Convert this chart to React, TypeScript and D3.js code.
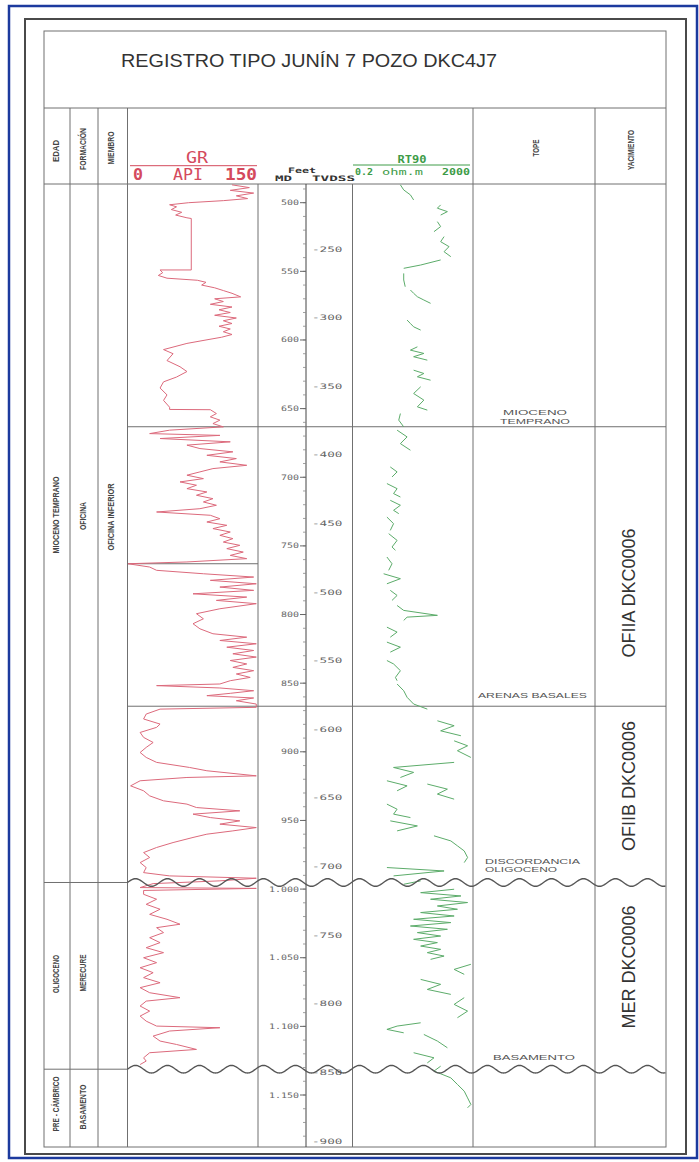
import React from "react";
import * as d3 from "d3";

// ---------- DATA ----------
const chartTitle = "REGISTRO TIPO JUNÍN 7 POZO DKC4J7";
const mdTicks = [500, 550, 600, 650, 700, 750, 800, 850, 900, 950, 1000, 1050, 1100, 1150];
const tvdssTicks = [-250, -300, -350, -400, -450, -500, -550, -600, -650, -700, -750, -800, -850, -900];

// GR (API) vs MD (ft)
const grData: [number, number][] = [
  [487,120],[489,140],[491,118],[493,145],[495,125],[497,138],[498.5,110],[500,70],[501.5,48],[503,56],[505,50],[507,62],[509,55],[511,68],[511.5,73],[549,73],[549,37],[551,40],[553,35],[555,45],[556.5,80],[558,90],[560,85],[562,100],[564,110],[566,120],[568.6,130],[570,100],[572,110],[574,95],[576,120],[578,105],[580,118],[582,100],[584,125],[586,110],[588,120],[590,105],[592,118],[594,110],[596,120],[598,108],[600,90],[602.5,68],[607,41],[610,52],[615,45],[619.5,60],[623,68],[627,56],[630.5,41],[635,37],[640,45],[644,41],[649,48],[650.6,48],[650.8,95],[653.6,102],[656,95],[658.4,106],[660.9,98],[663.3,110],[665.7,48],[668.2,25],[669.5,106],[671.8,37],[674.2,118],[676.6,68],[679.1,83],[681.5,121],[684,91],[686.4,125],[688.8,106],[691.3,137],[693.7,98],[696.1,83],[698.5,68],[701,87],[703.4,60],[705.8,79],[708.3,68],[710.7,91],[713.1,79],[715.6,98],[718,87],[720.4,102],[722.9,83],[725.3,33],[727.7,95],[730.2,106],[732.6,91],[735,114],[737.4,98],[739.9,118],[742.3,106],[744.7,121],[747.2,110],[749.6,129],[752,114],[754.5,133],[756.9,118],[759.3,137],[761.7,68],[763,0],[765.4,25],[767.8,33],[770.3,87],[772.7,145],[775.1,95],[777.6,148],[780,106],[782.4,145],[784.9,75],[787.3,137],[789.7,102],[792.1,148],[795.8,106],[799.4,79],[803.1,87],[806.7,75],[810.4,83],[814,98],[816.5,137],[818.9,106],[821.3,148],[823.8,114],[826.2,145],[828.6,121],[831,148],[833.5,118],[836,137],[838.5,121],[840.9,145],[843.3,125],[845.8,141],[848.2,118],[850.6,106],[851.8,33],[853.5,106],[855.5,145],[857.4,118],[859.1,91],[860.8,145],[862.8,125],[865.2,148],[867.6,148],[868.9,37],[872.5,21],[876.1,18],[879.8,37],[882.2,33],[885.9,14],[889.5,18],[893.2,29],[896.8,21],[900.5,14],[904.1,21],[907.7,33],[911.4,71],[913.8,91],[917.5,148],[918.7,68],[921.1,14],[924.8,3],[928.4,18],[932.1,25],[935.7,41],[938.1,68],[940.6,79],[943,129],[945.4,75],[947.9,95],[950.3,129],[952.7,106],[955.2,148],[957.6,121],[960,91],[962.4,75],[966.1,52],[969.7,33],[973.4,18],[977,25],[980.7,14],[984.3,21],[988,18],[990.4,48],[992.1,148],[994,106],[996,29],[998.9,14],[999.5,148],[1001,18],[1003.8,18],[1007.4,33],[1011.1,21],[1014.7,37],[1018.4,25],[1022,45],[1025.6,60],[1028.1,33],[1031.7,41],[1035.4,25],[1039,37],[1042.7,21],[1046.3,41],[1050,18],[1053.6,33],[1057.3,14],[1060.9,29],[1064.5,18],[1068.2,37],[1071.8,14],[1075.5,25],[1079.1,60],[1081.6,21],[1085.2,14],[1088.9,25],[1092.5,14],[1096.2,21],[1099.8,33],[1101,106],[1103.4,48],[1107.1,29],[1110.7,37],[1113.2,56],[1116.8,79],[1119.2,25],[1122.9,18],[1125.3,21],[1127.8,14]
];

// RT90 (ohm.m) vs MD (ft), broken into segments
const rt90Segments: [number, number][][] = [
  [[487,7.6],[490.7,9.8],[494.3,16.4],[498,21]],
  [[501.6,167],[504,130],[506.5,280],[509,167]],
  [[513.8,130],[517.4,167],[521.1,100]],
  [[524.7,217],[528.4,167],[532,317],[535.7,217],[539.3,364]],
  [[541.7,167],[545.4,36],[547.8,9.8]],
  [[551.5,9.8],[556.3,9.8],[561.2,11]],
  [[563.6,16.4],[566,21],[568.5,28],[570.9,46],[573.3,77]],
  [[585.5,12.7],[588,16.4],[590.4,21],[592.8,36]],
  [[605,28],[607.4,16.4],[609.8,46],[612.2,21],[614.7,60]],
  [[622,21],[624.4,46],[626.8,28],[629.3,77]],
  [[634.1,36],[639,21],[643.8,46],[648.7,28],[651.1,60]],
  [[653.6,7.6],[658.4,6.7],[663.3,9.8]],
  [[665.7,5.9],[670.6,12.7],[675.5,7.6],[680.3,16.4]],
  [[692.5,3.5],[696.1,5.9],[699.8,4.0]],
  [[704.6,2.7],[708.3,5.9],[711.9,4.5],[714.4,7.6]],
  [[716.8,3.5],[720.4,7.6],[724.1,4.5],[726.5,6.7]],
  [[729,2.7],[733.8,4.5],[738.7,3.5]],
  [[741.1,3.1],[746,5.9],[750.8,4.0],[753.2,5.2]],
  [[758.1,2.7],[763,4.0],[767.8,3.1]],
  [[770.3,2.1],[773.9,7.6],[777.6,2.7]],
  [[782.4,3.5],[786.1,5.9],[789.7,4.0]],
  [[793.4,5.9],[797,9.8],[800.6,130],[801.9,12.7],[804.3,9.8]],
  [[809.2,2.7],[812.8,5.9],[816.5,3.5]],
  [[820.1,2.7],[823.8,7.6],[827.4,3.5]],
  [[833.5,2.7],[836,4.5],[840.9,7.6],[845.8,5.2],[848.2,5.9]],
  [[850.6,5.9],[855.5,9.8],[860.3,12.7],[865.2,21],[868.9,60]],
  [[877.4,130],[881,470],[884.7,167],[888.3,790]],
  [[892,470],[895.6,1320],[899.2,605],[904.1,1700]],
  [[907.7,470],[911.4,4.5],[915,21],[918.7,7.6]],
  [[921.1,2.7],[924.8,12.7],[928.4,5.9]],
  [[923.5,60],[927.2,280],[930.8,130],[934.5,470]],
  [[938.1,2.7],[941.8,5.9],[945.4,4.5],[947.9,16.4]],
  [[950.3,3.5],[954,28],[957.6,5.9]],
  [[961.2,100],[964.9,364],[968.5,605],[972.2,1020],[977,1320],[980.7,1020]],
  [[984.3,2.7],[986.8,217],[990.4,4.5]],
  [[994,36],[996.5,9.8]],
  [[1000.1,470],[1002.6,36],[1005,790],[1007.4,77],[1009.8,1320],[1012.3,130],[1014.7,605],[1017.1,36],[1019.6,470],[1022,21],[1024.4,364],[1026.9,16.4],[1029.3,280],[1031.7,28],[1034.2,167],[1036.6,21],[1039,130],[1041.5,36],[1043.9,167],[1046.3,60],[1048.8,217],[1051.2,77]],
  [[1054.8,1700],[1058.5,470],[1062.1,1020]],
  [[1065.8,36],[1069.4,167],[1073.1,60],[1076.7,364]],
  [[1079.1,1020],[1084,470],[1088.9,1320],[1093.7,605]],
  [[1097.4,36],[1099.8,5.9],[1102.2,2.7],[1104.7,9.8]],
  [[1105.9,46],[1110.7,130],[1115.6,280]],
  [[1119.2,21],[1122.9,100],[1126.6,60]],
  [[1129,167],[1132.6,100],[1137.5,364],[1142.3,605],[1147.2,1020],[1152.1,1320],[1156.9,1700],[1159.3,1320]]
];

const edadLabels = ["MIOCENO TEMPRANO", "OLIGOCENO", "PRE - CÁMBRICO"];
const edadLens = [77, 38, 55];
const formacionLabels = ["OFICINA", "MERECURE", "BASAMENTO"];
const formacionLens = [28, 37, 45];
const miembroLabels = ["OFICINA INFERIOR"];
const yacimientoLabels = ["OFIIA DKC0006", "OFIIB DKC0006", "MER DKC0006"];

// ---------- LAYOUT ----------
const W = 699, H = 1162;
const L = 44, R = 666, T = 31, HT = 108, HB = 184, B = 1147;
const c1 = 70, c2 = 98, grL = 127.5, grR = 258, mdAx = 306, rtL = 352.5, rtR = 473, topeR = 595;
const GRID = "#707070";
const GRC = "#dc6a7c";
const GRT = "#d44a5d";
const RTC = "#5cac6a";
const RTT = "#3e9c48";

const y = d3.scaleLinear().domain([500, 1150]).range([202.7, 1095]);
const yTv = d3.scaleLinear().domain([-250, -900]).range([249, 1141]);
const xGR = d3.scaleLinear().domain([0, 150]).range([grL + 0.5, grR]);
const xRT = d3.scaleLog().domain([0.2, 2000]).range([rtL + 0.5, rtR]);

const grLine = d3.line<[number, number]>().x(d => xGR(d[1])).y(d => y(d[0]));
const rtLine = d3.line<[number, number]>().x(d => xRT(d[1])).y(d => y(d[0]));

const fmtMD = (v: number) => (v >= 1000 ? `${Math.floor(v / 1000)}.${String(v % 1000).padStart(3, "0")}` : String(v));

function wavePath(y0: number, x0: number, x1: number) {
  const pts: [number, number][] = d3.range(x0, x1 + 0.5, 1).map(x => [x, y0 + 3.8 * Math.sin(((x - x0) / 32) * 2 * Math.PI + Math.PI)]);
  return d3.line()(pts) as string;
}

const minorTicks = d3.range(490, 1190, 10);

const sans = "Liberation Sans, Arial, sans-serif";
const mono = "DejaVu Sans Mono, monospace";

function VText({ x, yy, text, len, size = 8, fill = "#444", weight = "bold", family = sans }: any) {
  return (
    <text transform={`translate(${x},${yy}) rotate(-90)`} textAnchor="middle" dominantBaseline="central"
      fontFamily={family} fontSize={size} fontWeight={weight} fill={fill}
      {...(len ? { textLength: len, lengthAdjust: "spacingAndGlyphs" } : {})}>{text}</text>
  );
}

export default function App() {
  const wave1 = y(995.2);
  const wave2 = y(1131.2);
  const zone1 = y(663.2);
  const zone2 = y(866.8);
  const grMark = y(763);
  return (
    <svg width={W} height={H} style={{ position: "absolute", left: 0, top: 0, background: "#fff" }}>
      <rect x={0} y={0} width={W} height={H} fill="#fff" />
      {/* outer frames */}
      <rect x={9} y={6} width={688} height={1152} fill="none" stroke="#1c3a9e" strokeWidth={2.5} />
      <rect x={25} y={19} width={661} height={1135} fill="none" stroke="#4a4a4a" strokeWidth={2} />
      <rect x={L} y={T} width={R - L} height={B - T} fill="none" stroke={GRID} strokeWidth={1} />

      {/* title */}
      <text x={121} y={67} fontFamily={sans} fontSize={18} fill="#333" textLength={376} lengthAdjust="spacingAndGlyphs">{chartTitle}</text>

      {/* header lines */}
      <line x1={L} x2={R} y1={HT} y2={HT} stroke={GRID} />
      <line x1={L} x2={R} y1={HB} y2={HB} stroke={GRID} />
      {[c1, c2, grL, rtR, topeR].map((x, i) => (
        <line key={i} x1={x} x2={x} y1={HT} y2={B} stroke={GRID} />
      ))}
      <line x1={grR} x2={grR} y1={HB} y2={B} stroke={GRID} />
      <line x1={rtL} x2={rtL} y1={HB} y2={B} stroke={GRID} />
      <line x1={mdAx} x2={mdAx} y1={HB} y2={B} stroke="#444" />

      {/* zone lines */}
      <line x1={grL} x2={R} y1={zone1} y2={zone1} stroke={GRID} />
      <line x1={grL} x2={R} y1={zone2} y2={zone2} stroke={GRID} />
      <line x1={grL} x2={grR} y1={grMark} y2={grMark} stroke={GRID} />
      <line x1={L} x2={grL} y1={wave1} y2={wave1} stroke={GRID} />
      <line x1={L} x2={grL} y1={wave2} y2={wave2} stroke={GRID} />

      {/* header texts */}
      <VText x={56} yy={151} text="EDAD" len={22} size={9} />
      <VText x={82.5} yy={149} text="FORMACIÓN" len={42} size={9} />
      <VText x={111} yy={148} text="MIEMBRO" len={33} size={9} />
      <VText x={535} yy={148} text="TOPE" len={17} size={9.5} />
      <VText x={630} yy={150} text="YACIMIENTO" len={40} size={9.5} />

      <text x={197} y={163} textAnchor="middle" fontFamily={mono} fontSize={15} fill={GRT} textLength={22} lengthAdjust="spacingAndGlyphs">GR</text>
      <line x1={130} x2={257} y1={165.7} y2={165.7} stroke={GRT} />
      <text x={133} y={180} fontFamily={mono} fontSize={15} fill={GRT} fontWeight="bold" textLength={10} lengthAdjust="spacingAndGlyphs">0</text>
      <text x={188} y={180} textAnchor="middle" fontFamily={mono} fontSize={15} fill={GRT} textLength={30} lengthAdjust="spacingAndGlyphs">API</text>
      <text x={257} y={180} textAnchor="end" fontFamily={mono} fontSize={15} fill={GRT} fontWeight="bold" textLength={32} lengthAdjust="spacingAndGlyphs">150</text>

      <text x={302} y={173} textAnchor="middle" fontFamily={mono} fontSize={7.5} fontWeight="bold" fill="#333" textLength={28} lengthAdjust="spacingAndGlyphs">Feet</text>
      <text x={283.5} y={180.5} textAnchor="middle" fontFamily={mono} fontSize={7.5} fontWeight="bold" fill="#333" textLength={17} lengthAdjust="spacingAndGlyphs">MD</text>
      <text x={333.5} y={180.5} textAnchor="middle" fontFamily={mono} fontSize={7.5} fontWeight="bold" fill="#333" textLength={43} lengthAdjust="spacingAndGlyphs">TVDSS</text>

      <text x={412} y={163} textAnchor="middle" fontFamily={mono} fontSize={10} fontWeight="bold" fill={RTT} textLength={29} lengthAdjust="spacingAndGlyphs">RT90</text>
      <line x1={353} x2={470} y1={165} y2={165} stroke={RTT} />
      <text x={355} y={174.5} fontFamily={mono} fontSize={9.5} fontWeight="bold" fill={RTT} textLength={18} lengthAdjust="spacingAndGlyphs">0.2</text>
      <text x={382} y={174.5} fontFamily={mono} fontSize={9.5} fill={RTT} textLength={41} lengthAdjust="spacingAndGlyphs">ohm.m</text>
      <text x={470} y={174.5} textAnchor="end" fontFamily={mono} fontSize={9.5} fontWeight="bold" fill={RTT} textLength={28} lengthAdjust="spacingAndGlyphs">2000</text>

      {/* left column body labels */}
      {edadLabels.map((t, i) => (
        <VText key={"e" + i} x={56} yy={[515, 974, 1104][i]} text={t} len={edadLens[i]} size={8.5} />
      ))}
      {formacionLabels.map((t, i) => (
        <VText key={"f" + i} x={83} yy={[516, 973, 1107][i]} text={t} len={formacionLens[i]} size={8.5} />
      ))}
      <VText x={111} yy={517} text={miembroLabels[0]} len={67} size={8.5} />

      {/* depth track */}
      {minorTicks.filter(m => y(m) > HB + 1 && y(m) < B - 1).map(m => (
        <line key={"mt" + m} x1={mdAx - 3} x2={mdAx} y1={y(m)} y2={y(m)} stroke="#888" strokeWidth={0.8} />
      ))}
      {mdTicks.map(m => (
        <g key={"md" + m}>
          <line x1={mdAx - 6} x2={mdAx} y1={y(m)} y2={y(m)} stroke="#666" />
          <text x={mdAx - 7} y={y(m)} textAnchor="end" dominantBaseline="central" fontFamily={mono} fontSize={7.5} fill="#666"
            textLength={fmtMD(m).length * 6} lengthAdjust="spacingAndGlyphs">{fmtMD(m)}</text>
        </g>
      ))}
      {tvdssTicks.map(t => (
        <text key={"tv" + t} x={312} y={yTv(t)} dominantBaseline="central" fontFamily={mono} fontSize={7.5} fill="#666"
          textLength={String(t).length * 7.6} lengthAdjust="spacingAndGlyphs">{String(t)}</text>
      ))}

      {/* curves */}
      <defs>
        <clipPath id="grClip"><rect x={grL} y={HB} width={grR - grL} height={B - HB} /></clipPath>
        <clipPath id="rtClip"><rect x={rtL} y={HB} width={rtR - rtL} height={B - HB} /></clipPath>
      </defs>
      <path d={grLine(grData) as string} fill="none" stroke={GRC} strokeWidth={1} clipPath="url(#grClip)" />
      <g clipPath="url(#rtClip)">
        {rt90Segments.map((s, i) => (
          <path key={"rt" + i} d={rtLine(s) as string} fill="none" stroke={RTC} strokeWidth={1} />
        ))}
      </g>

      {/* unconformities */}
      <path d={wavePath(wave1, grL, R)} fill="none" stroke="#555" strokeWidth={1.4} />
      <path d={wavePath(wave2, grL, R)} fill="none" stroke="#555" strokeWidth={1.4} />

      {/* TOPE labels */}
      <text x={535} y={415} textAnchor="middle" fontFamily={sans} fontSize={7.5} fill="#555" textLength={64} lengthAdjust="spacingAndGlyphs">MIOCENO</text>
      <text x={535} y={423.5} textAnchor="middle" fontFamily={sans} fontSize={7.5} fill="#555" textLength={70} lengthAdjust="spacingAndGlyphs">TEMPRANO</text>
      <text x={478} y={698} fontFamily={sans} fontSize={7.5} fill="#555" textLength={109} lengthAdjust="spacingAndGlyphs">ARENAS  BASALES</text>
      <text x={485} y={864} fontFamily={sans} fontSize={7.5} fill="#555" textLength={95} lengthAdjust="spacingAndGlyphs">DISCORDANCIA</text>
      <text x={485} y={872} fontFamily={sans} fontSize={7.5} fill="#555" textLength={72} lengthAdjust="spacingAndGlyphs">OLIGOCENO</text>
      <text x={534} y={1060} textAnchor="middle" fontFamily={sans} fontSize={7.5} fill="#555" textLength={82} lengthAdjust="spacingAndGlyphs">BASAMENTO</text>

      {/* YACIMIENTO labels */}
      {yacimientoLabels.map((t, i) => (
        <VText key={"y" + i} x={629} yy={[593, 786, 967][i]} text={t} size={18} weight="normal" fill="#333" />
      ))}
    </svg>
  );
}
